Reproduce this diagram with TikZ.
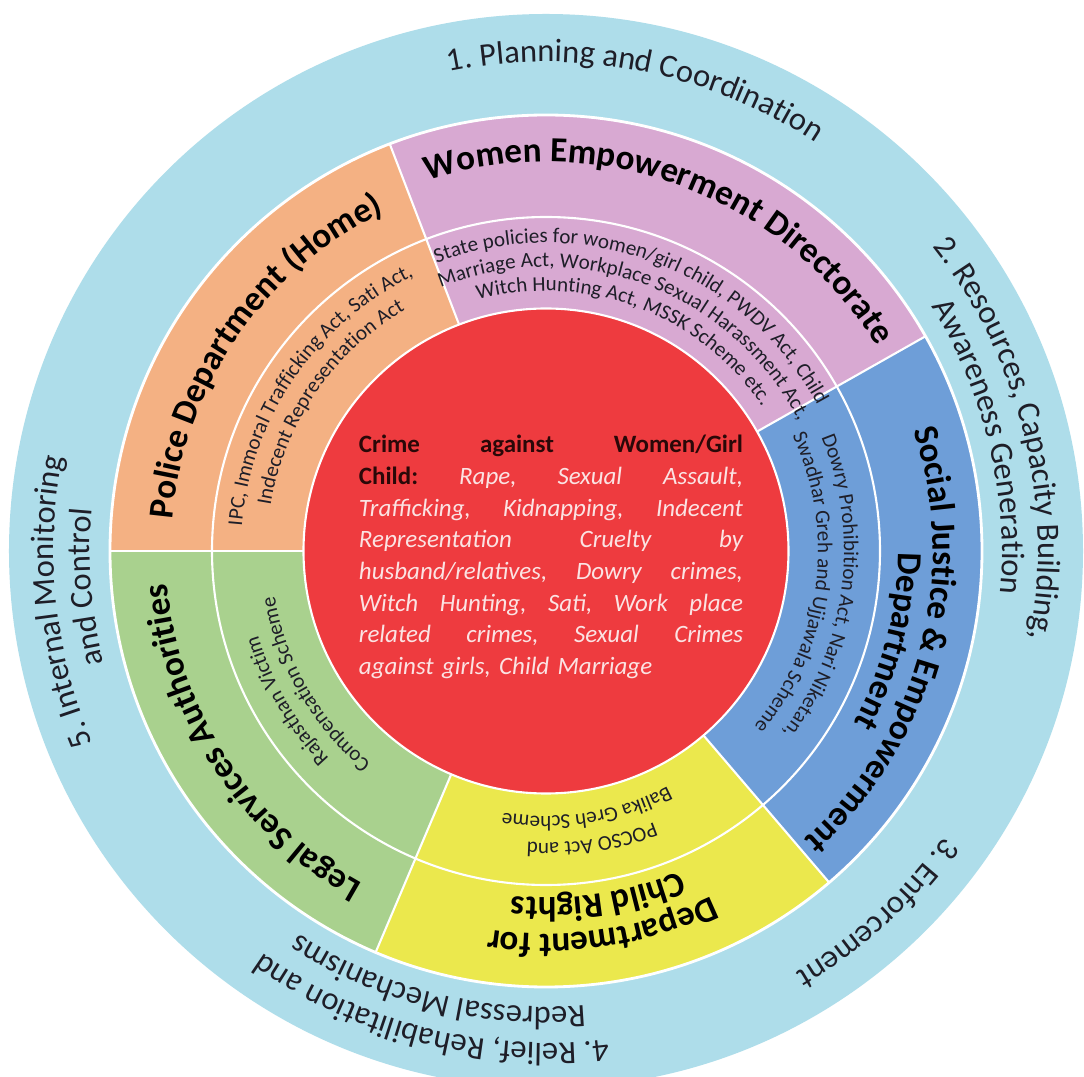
\documentclass[tikz,border=0pt]{standalone}
\usepackage{fontspec}
\setmainfont{Carlito}
\usetikzlibrary{decorations.text}
\definecolor{ringblue}{HTML}{AEDDEA}
\definecolor{policeorange}{HTML}{F4B183}
\definecolor{wedpink}{HTML}{D8A9D2}
\definecolor{sjeblue}{HTML}{6E9ED8}
\definecolor{childyellow}{HTML}{EBE84D}
\definecolor{legalgreen}{HTML}{A9D18E}
\definecolor{crimered}{HTML}{EE3B3F}
\definecolor{crimeink}{HTML}{2A0808}
\definecolor{crimetext}{HTML}{FBE3E3}
\definecolor{inkgray}{HTML}{1E1E28}
\begin{document}
\begin{tikzpicture}[
	outertext/.style={decorate,decoration={text along path,text align=center,text color=inkgray,text={|\fontsize{18.5}{22}\selectfont|#1}}},
	titletext/.style={decorate,decoration={text along path,text align=center,text color=black,text={|\fontsize{20}{24}\selectfont\bfseries|#1}}},
	acttext/.style={decorate,decoration={text along path,text align=center,text color=inkgray,text={|\fontsize{12}{14}\selectfont|#1}}},
	divider/.style={white,line width=1.2pt}]
	\useasboundingbox (-10.92,-10.52) rectangle (10.76,11.02);
	\clip (-10.92,-10.52) rectangle (10.76,11.02);
	\fill[white] (-10.92,-10.52) rectangle (10.76,11.02);
	% outer ring
	\fill[ringblue] (0,0) circle (10.74);
	% departments
	\fill[policeorange] (0,0) -- (111:8.72) arc[start angle=111,end angle=180,radius=8.72] -- cycle;
	\fill[wedpink] (0,0) -- (29.5:8.72) arc[start angle=29.5,end angle=111,radius=8.72] -- cycle;
	\fill[sjeblue] (0,0) -- (-49.5:8.72) arc[start angle=-49.5,end angle=29.5,radius=8.72] -- cycle;
	\fill[childyellow] (0,0) -- (-113:8.72) arc[start angle=-113,end angle=-49.5,radius=8.72] -- cycle;
	\fill[legalgreen] (0,0) -- (-180:8.72) arc[start angle=-180,end angle=-113,radius=8.72] -- cycle;
	\draw[divider] (111:4.85) -- (111:8.72);
	\draw[divider] (29.5:4.85) -- (29.5:8.72);
	\draw[divider] (-49.5:4.85) -- (-49.5:8.72);
	\draw[divider] (-113:4.85) -- (-113:8.72);
	\draw[divider] (180:4.85) -- (180:8.72);
	\draw[divider] (0,0) circle (6.68);
	\draw[white,line width=1.6pt] (0,0) circle (8.72);
	% centre
	\fill[crimered,draw=white,line width=1.2pt] (0,0) circle (4.85);
	\node[text width=7.68cm,align=left,inner sep=0pt,text=crimetext,font=\fontsize{14.2}{18}\selectfont\itshape] (crime) at (0.1,-0.12) {%
		\makebox[7.68cm][l]{\upshape\bfseries\color{crimeink}Crime\hfill against\hfill Women/Girl}\\
		\makebox[7.68cm][l]{{\upshape\bfseries\color{crimeink}Child:}\hfill Rape,\hfill Sexual\hfill Assault,}\\
		\makebox[7.68cm][l]{Trafficking,\hfill Kidnapping,\hfill Indecent}\\
		\makebox[7.68cm][l]{Representation\hfill Cruelty\hfill by}\\
		\makebox[7.68cm][l]{husband/relatives,\hfill Dowry\hfill crimes,}\\
		\makebox[7.68cm][l]{Witch\hfill Hunting,\hfill Sati,\hfill Work\hfill place}\\
		\makebox[7.68cm][l]{related\hfill crimes,\hfill Sexual\hfill Crimes}\\
		against girls, Child Marriage};
	% outer ring texts
	\path[outertext={1. Planning and Coordination}] (169:9.78) arc[start angle=169,end angle=-11,radius=9.78];
	\path[outertext={2. Resources, Capacity Building,}] (104:9.84) arc[start angle=104,end angle=-76,radius=9.84];
	\path[outertext={Awareness Generation}] (103.5:9.12) arc[start angle=103.5,end angle=-76.5,radius=9.12];
	\path[outertext={3. Enforcement}] (42.5:9.8) arc[start angle=42.5,end angle=-137.5,radius=9.8];
	\path[outertext={4. Relief, Rehabilitation and}] (-14:9.84) arc[start angle=-14,end angle=-194,radius=9.84];
	\path[outertext={Redressal Mechanisms}] (-14:9.12) arc[start angle=-14,end angle=-194,radius=9.12];
	\path[outertext={5. Internal Monitoring}] (276:9.84) arc[start angle=276,end angle=96,radius=9.84];
	\path[outertext={and Control}] (274.5:9.12) arc[start angle=274.5,end angle=94.5,radius=9.12];
	% department names
	\path[titletext={Women Empowerment Directorate}] (159.7:7.78) arc[start angle=159.7,end angle=-20.3,radius=7.78];
	\path[titletext={Police Department (Home)}] (235.3:7.5) arc[start angle=235.3,end angle=55.3,radius=7.5];
	\path[titletext={Social Justice {\&} Empowerment}] (75:7.74) arc[start angle=75,end angle=-105,radius=7.74];
	\path[titletext={Department}] (75.3:7.04) arc[start angle=75.3,end angle=-104.7,radius=7.04];
	\path[titletext={Department for}] (8.5:7.66) arc[start angle=8.5,end angle=-171.5,radius=7.66];
	\path[titletext={Child Rights}] (8.5:6.94) arc[start angle=8.5,end angle=-171.5,radius=6.94];
	\path[titletext={Legal Services Authorities}] (-57:7.6) arc[start angle=-57,end angle=-237,radius=7.6];
	% acts and schemes
	\path[acttext={State policies for women/girl child, PWDV Act, Child}] (159.5:6.16) arc[start angle=159.5,end angle=-20.5,radius=6.16];
	\path[acttext={Marriage Act, Workplace Sexual Harassment Act,}] (159.5:5.68) arc[start angle=159.5,end angle=-20.5,radius=5.68];
	\path[acttext={Witch Hunting Act, MSSK Scheme etc.}] (159.5:5.2) arc[start angle=159.5,end angle=-20.5,radius=5.2];
	\path[acttext={IPC, Immoral Trafficking Act, Sati Act,}] (235.5:6.1) arc[start angle=235.5,end angle=55.5,radius=6.1];
	\path[acttext={Indecent Representation Act}] (235.5:5.58) arc[start angle=235.5,end angle=55.5,radius=5.58];
	\path[acttext={Dowry Prohibition Act, Nari Niketan,}] (82.5:5.96) arc[start angle=82.5,end angle=-97.5,radius=5.96];
	\path[acttext={Swadhar Greh and Ujjawala Scheme}] (82.5:5.44) arc[start angle=82.5,end angle=-97.5,radius=5.44];
	\path[acttext={POCSO Act and}] (9:5.84) arc[start angle=9,end angle=-171,radius=5.84];
	\path[acttext={Balika Greh Scheme}] (9:5.3) arc[start angle=9,end angle=-171,radius=5.3];
	\path[acttext={Rajasthan Victim}] (-60:6.0) arc[start angle=-60,end angle=-240,radius=6.0];
	\path[acttext={Compensation Scheme}] (-60:5.5) arc[start angle=-60,end angle=-240,radius=5.5];
\end{tikzpicture}
\end{document}
